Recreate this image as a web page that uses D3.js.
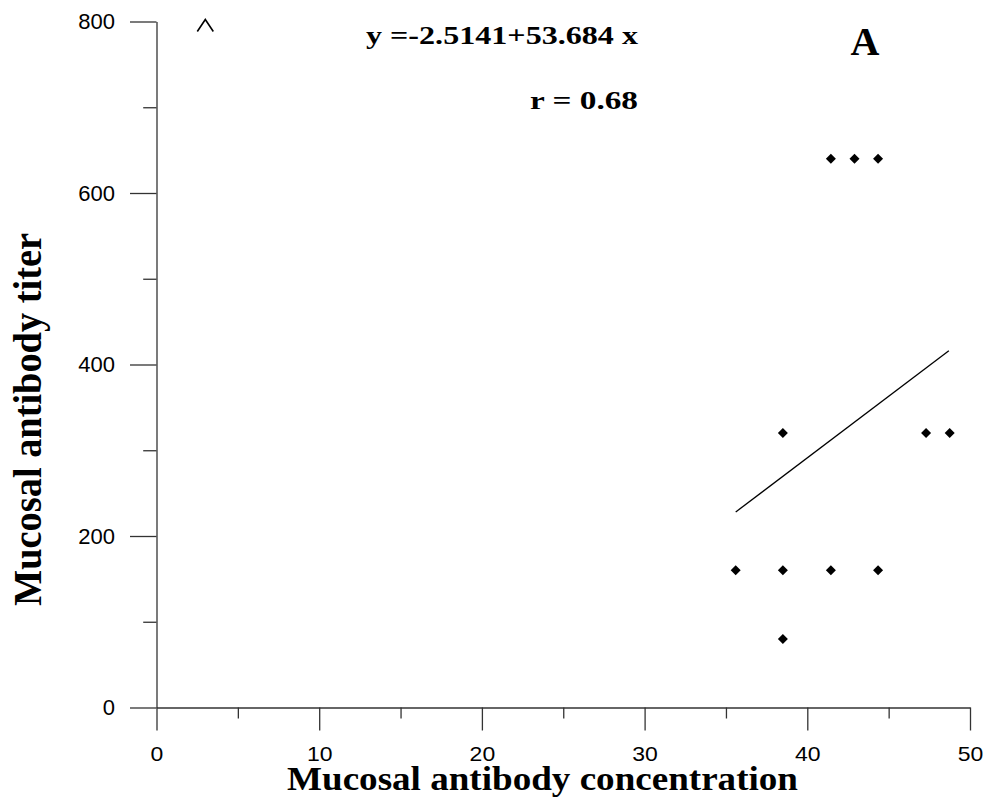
<!DOCTYPE html>
<html>
<head>
<meta charset="utf-8">
<script src="https://cdn.jsdelivr.net/npm/d3@7"></script>
<style>
  html, body { margin: 0; padding: 0; background: #fff; }
  svg { display: block; }
</style>
</head>
<body>
<svg id="chart" width="984" height="803"></svg>
<script>
// ---- data ----
const pointX = [35.6, 38.5, 41.45, 44.35, 38.5, 41.45, 42.9, 44.35, 38.5, 47.3, 48.75];
const pointY = [160, 160, 160, 160, 80, 640, 640, 640, 320, 320, 320];
const offScaleX = [3];
const offScaleY = [800];
const fitX = [35.6, 48.7];
const fitY = [228, 416];
const xMajorTicks = [0, 10, 20, 30, 40, 50];
const xMinorTicks = [5, 15, 25, 35, 45];
const yMajorTicks = [0, 200, 400, 600, 800];
const yMinorTicks = [100, 300, 500, 700];
const equationText = "y =-2.5141+53.684 x";
const rText = "r = 0.68";
const panelLabel = "A";
const xTitle = "Mucosal antibody concentration";
const yTitle = "Mucosal antibody titer";

// ---- layout ----
const svg = d3.select("#chart");
const x = d3.scaleLinear().domain([0, 50]).range([156.5, 970]);
const y = d3.scaleLinear().domain([0, 800]).range([707.5, 21.5]);
const axisColor = "#333";

// minor ticks
svg.append("g")
  .attr("transform", `translate(0,${y(0)})`)
  .call(d3.axisBottom(x).tickValues(xMinorTicks).tickSize(11).tickFormat(""))
  .call(g => g.select(".domain").remove())
  .call(g => g.selectAll("line").attr("stroke", axisColor).attr("stroke-width", 1.3));
svg.append("g")
  .attr("transform", `translate(${x(0)},0)`)
  .call(d3.axisLeft(y).tickValues(yMinorTicks).tickSize(13.3).tickFormat(""))
  .call(g => g.select(".domain").remove())
  .call(g => g.selectAll("line").attr("stroke", axisColor).attr("stroke-width", 1.3));

// major axes
const xAxis = svg.append("g")
  .attr("transform", `translate(0,${y(0)})`)
  .call(d3.axisBottom(x).tickValues(xMajorTicks).tickSize(23).tickSizeOuter(0).tickPadding(16).tickFormat(d3.format("d")));
xAxis.select(".domain").attr("stroke", axisColor).attr("stroke-width", 1.3);
xAxis.selectAll("line").attr("stroke", axisColor).attr("stroke-width", 1.3);
xAxis.selectAll("text")
  .attr("font-family", "'Liberation Sans', Arial, sans-serif")
  .attr("font-size", 20).attr("fill", "#000")
  .attr("transform", "scale(1.15,1)");

const yAxis = svg.append("g")
  .attr("transform", `translate(${x(0)},0)`)
  .call(d3.axisLeft(y).tickValues(yMajorTicks).tickSize(26.5).tickSizeOuter(0).tickPadding(15).tickFormat(d3.format("d")));
yAxis.select(".domain").attr("stroke", axisColor).attr("stroke-width", 1.3);
yAxis.selectAll("line").attr("stroke", axisColor).attr("stroke-width", 1.3);
yAxis.selectAll("text")
  .attr("font-family", "'Liberation Sans', Arial, sans-serif")
  .attr("font-size", 22).attr("fill", "#000");

// regression line
const fitData = fitX.map((v, i) => [v, fitY[i]]);
svg.append("path")
  .datum(fitData)
  .attr("d", d3.line().x(d => x(d[0])).y(d => y(d[1])))
  .attr("fill", "none").attr("stroke", "#000").attr("stroke-width", 1.3);

// points (diamonds)
const pts = pointX.map((v, i) => ({ x: v, y: pointY[i] }));
const diamond = d3.symbol(d3.symbolSquare, 50);
svg.append("g").selectAll("path")
  .data(pts).join("path")
  .attr("d", diamond)
  .attr("transform", d => `translate(${x(d.x)},${y(d.y)}) rotate(45)`)
  .attr("fill", "#000");

// off-scale caret marker
const off = offScaleX.map((v, i) => ({ x: v, y: offScaleY[i] }));
svg.append("g").selectAll("path")
  .data(off).join("path")
  .attr("d", d => {
    const cx = x(d.x), cy = y(d.y) - 2;
    return `M${cx - 8},${cy + 12} L${cx},${cy} L${cx + 8},${cy + 12}`;
  })
  .attr("fill", "none").attr("stroke", "#000").attr("stroke-width", 1.6);

// annotations
const serif = "'Liberation Serif', 'Times New Roman', serif";
svg.append("text").attr("x", 366).attr("y", 43.5)
  .attr("font-family", serif).attr("font-weight", "bold").attr("font-size", 25)
  .attr("textLength", 272).attr("lengthAdjust", "spacingAndGlyphs")
  .text(equationText);
svg.append("text").attr("x", 530).attr("y", 108.5)
  .attr("font-family", serif).attr("font-weight", "bold").attr("font-size", 25)
  .attr("textLength", 108).attr("lengthAdjust", "spacingAndGlyphs")
  .text(rText);
svg.append("text").attr("x", 850.5).attr("y", 55)
  .attr("font-family", serif).attr("font-weight", "bold").attr("font-size", 40)
  .text(panelLabel);

// axis titles
svg.append("text").attr("x", 287).attr("y", 790)
  .attr("font-family", serif).attr("font-weight", "bold").attr("font-size", 34)
  .attr("textLength", 511).attr("lengthAdjust", "spacingAndGlyphs")
  .text(xTitle);
svg.append("text")
  .attr("transform", "translate(40.5,606) rotate(-90)")
  .attr("x", 0).attr("y", 0)
  .attr("font-family", serif).attr("font-weight", "bold").attr("font-size", 40)
  .attr("textLength", 373).attr("lengthAdjust", "spacingAndGlyphs")
  .text(yTitle);
</script>
</body>
</html>
